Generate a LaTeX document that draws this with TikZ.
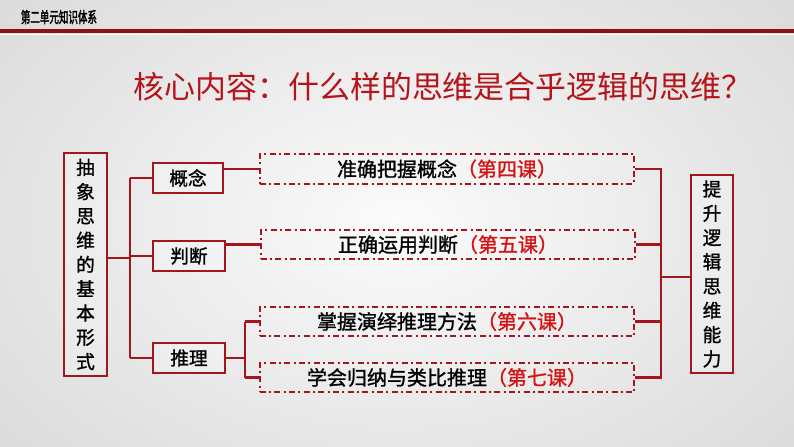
\documentclass[tikz,border=0pt]{standalone}
\usepackage{fontspec}
\setmainfont{Noto Sans CJK SC}
\newfontfamily\cjk{Noto Sans CJK SC}
\newfontfamily\cjkm[FakeBold=1.2]{Noto Sans CJK SC}
\newfontfamily\cjkbold[FakeBold=2.5]{Noto Sans CJK SC}
\definecolor{lred}{HTML}{A3161B}
\definecolor{tred}{HTML}{B5141B}
\definecolor{kred}{HTML}{D41414}
\begin{document}
\begin{tikzpicture}[x=0.75pt,y=-0.75pt,
  solidbox/.style={draw=lred,line width=1.5pt,fill=white,fill opacity=0.25,text opacity=1,inner sep=0pt},
  vbox/.style={solidbox,align=center,font=\cjkm\fontsize{14}{18.2}\selectfont},
  hbox/.style={solidbox,minimum height=22.5pt,font=\cjkm\fontsize{14}{15}\selectfont},
  dbox/.style={draw=lred,line width=1.5pt,dash pattern=on 4.5pt off 2.5pt on 1.5pt off 2.5pt,minimum width=281pt,minimum height=22pt,inner sep=0pt,font=\cjkm\fontsize{15}{16}\selectfont},
  conn/.style={draw=lred,line width=1.7pt}]
\useasboundingbox (0,0) rectangle (794,447);
\shade[inner color=white!97!gray,outer color=gray!28] (-120,-120) rectangle (914,567);
% header
\node[anchor=west,font=\cjkbold\fontsize{11.5}{12}\selectfont,xscale=0.62,transform shape] (hdr) at (18,17) {第二单元知识体系};
\draw[lred!85!black,line width=3pt] (0,31) coordinate (hl) -- (794,31) coordinate (hr);
\draw[white,line width=0.6pt] (0,34.5) coordinate (wl) -- (794,34.5) coordinate (wr);
% title
\node[text=tred,font=\cjk\fontsize{23.2}{25}\selectfont] (title) at (443,87) {核心内容：什么样的思维是合乎逻辑的思维？};
% left and right boxes
\node[vbox,minimum width=32pt,minimum height=167pt] (L) at (85.5,264.5) {抽\\象\\思\\维\\的\\基\\本\\形\\式};
\node[vbox,minimum width=31.5pt,minimum height=148.5pt] (R) at (712,274) {提\\升\\逻\\辑\\思\\维\\能\\力};
% small boxes
\node[hbox,minimum width=52.5pt] (K1) at (188,178) {概念};
\node[hbox,minimum width=54pt] (K2) at (189,256) {判断};
\node[hbox,minimum width=54pt] (K3) at (189,358) {推理};
% dashed boxes
\node[dbox] (D1) at (447,169) {准确把握概念\textcolor{kred}{（第四课）}};
\node[dbox] (D2) at (448,244.5) {正确运用判断\textcolor{kred}{（第五课）}};
\node[dbox] (D3) at (447,321.5) {掌握演绎推理方法\textcolor{kred}{（第六课）}};
\node[dbox] (D4) at (447,377.5) {学会归纳与类比推理\textcolor{kred}{（第七课）}};
% left tree
\coordinate (T) at (130,258);
\coordinate (F) at (245,353);
\coordinate (G) at (661,277);
\draw[conn] (L.east |- T) -- (T);
\draw[conn] (K1.west -| T) -- (K3.west -| T);
\draw[conn] (K1.west -| T) -- (K1.west);
\draw[conn] (K2.west -| T) -- (K2.west);
\draw[conn] (K3.west -| T) -- (K3.west);
\draw[conn] (D1.west -| K1.east) -- (D1.west);
\draw[conn] (D2.west -| K2.east) -- (D2.west);
\draw[conn] (K3.east) -- (K3.east -| F);
\draw[conn] (D3.west -| F) -- (D4.west -| F);
\draw[conn] (D3.west -| F) -- (D3.west);
\draw[conn] (D4.west -| F) -- (D4.west);
% right tree
\draw[conn] (D1.east) -- (D1.east -| G) -- (D4.east -| G) -- (D4.east);
\draw[conn] (D2.east) -- (D2.east -| G);
\draw[conn] (D3.east) -- (D3.east -| G);
\draw[conn] (G) -- (R.west |- G);
\end{tikzpicture}
\end{document}
